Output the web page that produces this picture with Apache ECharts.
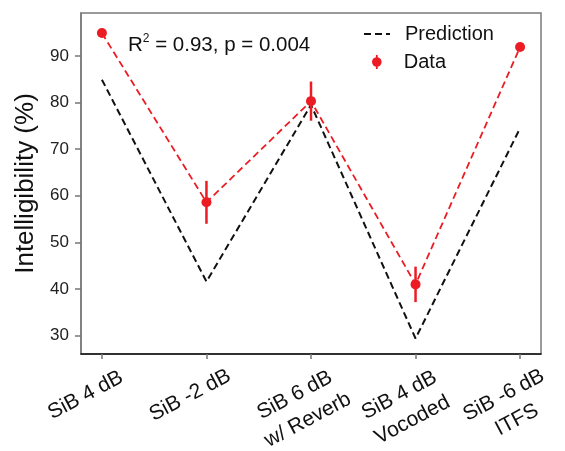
<!DOCTYPE html>
<html>
<head>
<meta charset="utf-8">
<script src="https://cdn.jsdelivr.net/npm/echarts@6/dist/echarts.min.js"></script>
<style>
  html, body { margin: 0; padding: 0; background: #fff; }
  #chart { width: 565px; height: 451px; }
</style>
</head>
<body>
<div id="chart"></div>
<script>
// 条件名称（横轴）
var categories = ['SiB 4 dB', 'SiB -2 dB', 'SiB 6 dB\nw/ Reverb', 'SiB 4 dB\nVocoded', 'SiB -6 dB\nITFS'];
// 预测值
var prediction = [84.9, 41.6, 79.5, 29.4, 74.5];
// 实测值及误差
var dataMean = [94.9, 58.6, 80.3, 41.0, 91.9];
var dataErr = [0.6, 4.6, 4.2, 3.8, 0.6];
// 纵轴刻度
var yTicks = [30, 40, 50, 60, 70, 80, 90];
var xTicks = [0, 1, 2, 3, 4];

var red = '#ec1c24';

var predPts = prediction.map(function (v, i) { return [i, v]; });
var dataPts = dataMean.map(function (v, i) { return [i, v]; });
var errPts = dataMean.map(function (v, i) { return [i, v - dataErr[i], v + dataErr[i]]; });

var chart = echarts.init(document.getElementById('chart'));

var option = {
    animation: false,
    grid: {
        left: 81, right: 24, top: 13, bottom: 97,
        outerBoundsMode: 'none',
        show: true, borderColor: '#7a7a7a', borderWidth: 1.5
    },
    title: {
        left: 123, top: 28,
        text: '{r|R}{s|2}{r| = 0.93, p = 0.004}',
        textStyle: {
            rich: {
                r: { fontFamily: 'Liberation Sans', fontSize: 20.5, fontWeight: 'normal', color: '#111', lineHeight: 24 },
                s: { fontFamily: 'Liberation Sans', fontSize: 12, fontWeight: 'normal', color: '#111', lineHeight: 12, verticalAlign: 'top' }
            }
        }
    },
    legend: [{
        data: [{ name: 'Prediction', itemStyle: { opacity: 0 } }],
        left: 358, top: 19,
        itemWidth: 26, itemHeight: 14,
        textStyle: { fontFamily: 'Liberation Sans', fontSize: 20, color: '#111', padding: [0, 0, 0, 10] }
    }, {
        data: [{ name: 'Data', icon: 'path://M4.1 0L5.9 0L5.9 14L4.1 14Z M0.2 7A4.8 4.8 0 1 1 9.8 7A4.8 4.8 0 1 1 0.2 7Z' }],
        left: 367, top: 47,
        itemWidth: 10, itemHeight: 14,
        textStyle: { fontFamily: 'Liberation Sans', fontSize: 20, color: '#111', padding: [0, 0, 0, 17] }
    }],
    xAxis: {
        type: 'value', min: -0.2, max: 4.2,
        splitLine: { show: false },
        axisLine: { onZero: false, lineStyle: { color: '#111', width: 1.5 } },
        axisTick: { customValues: xTicks, length: 5, lineStyle: { color: '#777', width: 1.5 } },
        axisLabel: {
            customValues: xTicks,
            formatter: function (v) {
                // 每行居中
                return categories[Math.round(v)].split('\n').map(function (s) {
                    return '{c|' + s + '}';
                }).join('\n');
            },
            rotate: 28, align: 'right', verticalAlign: 'top',
            showMinLabel: true, showMaxLabel: true,
            margin: -24, padding: [36, 0, 0, 0],
            rich: {
                c: { width: 90, align: 'center', lineHeight: 28, fontFamily: 'Liberation Sans', fontSize: 21, color: '#111' }
            }
        }
    },
    yAxis: {
        type: 'value', min: 26.07, max: 99.2,
        name: 'Intelligibility (%)', nameLocation: 'middle', nameGap: 41,
        nameTextStyle: { fontFamily: 'Liberation Sans', fontSize: 26, color: '#111' },
        splitLine: { show: false },
        axisLine: { show: true, onZero: false, lineStyle: { color: '#7a7a7a', width: 1.5 } },
        axisTick: { customValues: yTicks, length: 6, lineStyle: { color: '#777', width: 1.5 } },
        axisLabel: {
            customValues: yTicks, margin: 12,
            fontFamily: 'Liberation Sans', fontSize: 17, color: '#222'
        }
    },
    series: [{
        name: 'Prediction',
        type: 'line',
        data: predPts,
        symbol: 'none',
        lineStyle: { color: '#111', width: 2, type: [7, 4] },
        itemStyle: { color: '#111' },
        z: 2
    }, {
        name: 'DataLine',
        type: 'line',
        data: dataPts,
        symbol: 'none',
        lineStyle: { color: red, width: 1.8, type: [7, 4] },
        z: 3
    }, {
        name: 'Data',
        type: 'custom',
        data: errPts,
        renderItem: function (params, api) {
            var x = api.value(0);
            var lo = api.coord([x, api.value(1)]);
            var hi = api.coord([x, api.value(2)]);
            return {
                type: 'line',
                shape: { x1: lo[0], y1: lo[1], x2: hi[0], y2: hi[1] },
                style: { stroke: red, lineWidth: 2.5 }
            };
        },
        itemStyle: { color: red },
        z: 4
    }, {
        name: 'DataDots',
        type: 'scatter',
        data: dataPts,
        symbol: 'circle',
        symbolSize: 10,
        itemStyle: { color: red, opacity: 1 },
        z: 5
    }]
};

chart.setOption(option);
</script>
</body>
</html>
